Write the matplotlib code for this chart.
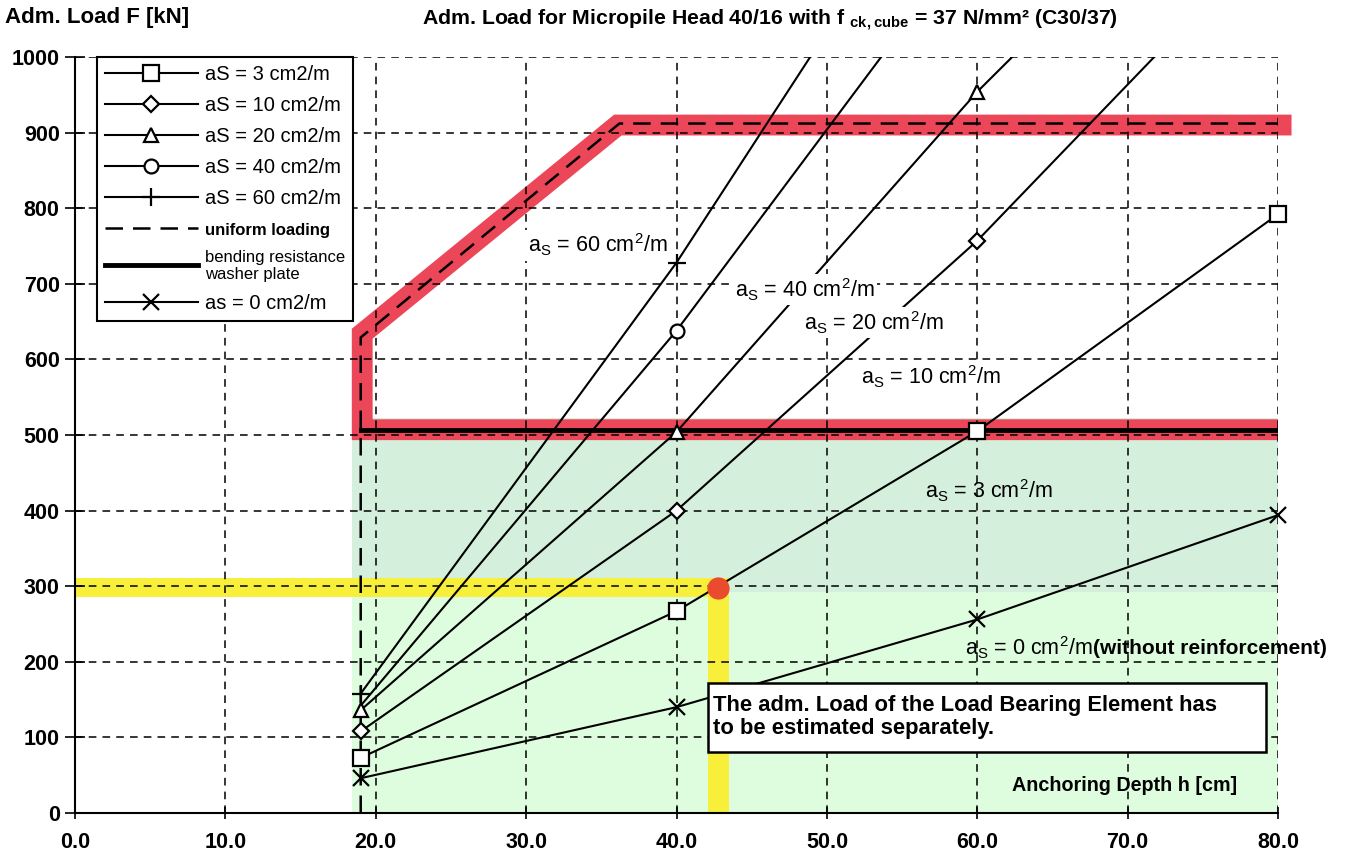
import numpy as np
import matplotlib
matplotlib.use('Agg')
import matplotlib.pyplot as plt
from matplotlib.lines import Line2D
from matplotlib.patches import Rectangle

plt.rcParams['font.family'] = ['Liberation Sans', 'DejaVu Sans']
plt.rcParams['mathtext.default'] = 'regular'

# anchoring depth h [cm] and admissible load F [kN] per reinforcement a_s
depth = [19, 40, 60, 80]
F_as0 = [46, 140, 256, 394]
F_as3 = [73, 267, 505, 792]
F_as10 = [108, 400, 757, 1170]
F_as20 = [136, 504, 954, 1350]
F_as40 = [142, 638, 1170, 1700]
F_as60 = [158, 728, 1340, 1950]

# limit curves
uni_h = [19, 19, 36.2, 80]
uni_F = [0, 629, 912, 912]
bend_h = [19, 80]
bend_F = [506, 506]

# highlighted limit (red) and read-off example (yellow)
red_h = [80, 19.1, 19.1, 36.1, 80.9]
red_F = [507, 507, 634, 910, 910]
ex_h, ex_F = 42.75, 297

xticks = [0, 10, 20, 30, 40, 50, 60, 70, 80]
yticks = [0, 100, 200, 300, 400, 500, 600, 700, 800, 900, 1000]

# label, values, marker, marker size, first marked point
series = [
    ('aS = 3 cm2/m', F_as3, 's', 11, 0),
    ('aS = 10 cm2/m', F_as10, 'D', 8.5, 0),
    ('aS = 20 cm2/m', F_as20, '^', 10, 0),
    ('aS = 40 cm2/m', F_as40, 'o', 10, 1),
    ('aS = 60 cm2/m', F_as60, '+', 13, 0),
    ('as = 0 cm2/m', F_as0, 'x', 11, 0),
]

W, H = 1353, 857
fig = plt.figure(figsize=(W/100, H/100), dpi=100)
ax = fig.add_axes([75/W, 1-813/H, (1278-75)/W, (813-57)/H])
ax.set_xlim(0, 80)
ax.set_ylim(0, 1000)

# background shading
lgreen = '#defcde'
dgreen = '#d4f0dc'
yel = '#f7ef3a'
ax.fill_between([18.4, 80], 0, 292, color=lgreen, lw=0, zorder=0.5)
ax.fill_between([18.4, 80], 292, 522, color=dgreen, lw=0, zorder=0.5)
ax.fill_between([0, 43.5], 286, 311, color=yel, lw=0, zorder=0.6)
ax.fill_betweenx([0, 311], 42.1, 43.5, color=yel, lw=0, zorder=0.6)
ax.plot(red_h, red_F, color='#eb4759', lw=15, solid_joinstyle='miter',
        solid_capstyle='butt', zorder=0.8, clip_on=False)

# grid
ax.grid(True, color='k', ls=(0, (5, 4)), lw=1.1)
ax.set_axisbelow(False)
for gl in ax.get_xgridlines() + ax.get_ygridlines():
    gl.set_zorder(1.5)

# limit curves
ax.plot(uni_h, uni_F, color='k', lw=1.8, ls=(0, (7, 4)), zorder=3)
ax.plot(bend_h, bend_F, color='k', lw=3.5, zorder=3)

# reinforcement curves
for lab, F, mk, ms, m0 in series:
    ax.plot(depth, F, color='k', lw=1.5, zorder=4)
    hv = [h for h, f in zip(depth[m0:], F[m0:]) if f <= 1000]
    fv = [f for f in F[m0:] if f <= 1000]
    ax.plot(hv, fv, ls='none', marker=mk, ms=ms, mfc='white', mec='k',
            mew=1.6, zorder=5, clip_on=False)

ax.plot([ex_h], [ex_F], 'o', ms=16, color='#ea4a2e', mew=0, zorder=4.5)

# note box
ax.add_patch(Rectangle((42.1, 81), 37.1, 91, fc='white', ec='k', lw=1.8, zorder=6))
ax.text(42.45, 127, 'The adm. Load of the Load Bearing Element has\nto be estimated separately.',
        fontsize=15.8, fontweight='bold', va='center', ha='left', linespacing=1.15, zorder=7)

# curve labels
lab_kw = dict(fontsize=15.5, va='center', ha='left', zorder=7)
box_kw = dict(fc='white', ec='none', pad=1.5)
ax.text(30.1, 751, r'a$_S$ = 60 cm$^2$/m', bbox=box_kw, **lab_kw)
ax.text(43.9, 692, r'a$_S$ = 40 cm$^2$/m', bbox=box_kw, **lab_kw)
ax.text(48.5, 649, r'a$_S$ = 20 cm$^2$/m', bbox=box_kw, **lab_kw)
ax.text(52.3, 577, r'a$_S$ = 10 cm$^2$/m', bbox=box_kw, **lab_kw)
ax.text(56.5, 426, r'a$_S$ = 3 cm$^2$/m', **lab_kw)
t0 = ax.text(59.2, 218, r'a$_S$ = 0 cm$^2$/m', **lab_kw)
ax.annotate('(without reinforcement)', xycoords=t0, xy=(1, 0.5), va='center',
            ha='left', fontsize=15, fontweight='bold', zorder=7, annotation_clip=False)
ax.text(62.3, 37, 'Anchoring Depth h [cm]', fontsize=14.2, fontweight='bold',
        va='center', ha='left', zorder=7)

# axes styling
for s in ['top', 'right']:
    ax.spines[s].set_visible(False)
for s in ['left', 'bottom']:
    ax.spines[s].set_linewidth(1.5)
ax.set_xticks(xticks)
ax.set_xticklabels(['%.1f' % v for v in xticks])
ax.set_yticks(yticks)
ax.set_yticklabels([str(v) for v in yticks])
ax.tick_params(axis='y', direction='inout', length=14, width=1.2, pad=4, labelsize=15.5)
ax.tick_params(axis='x', direction='inout', length=8, width=1.2, pad=10, labelsize=15.5)
for t in ax.get_xticklabels() + ax.get_yticklabels():
    t.set_fontweight('bold')

fig.text(5/W, 1-18/H, 'Adm. Load F [kN]', fontsize=16, fontweight='bold',
         va='center', ha='left')
fig.text(770/W, 1-20/H, r'Adm. Load for Micropile Head 40/16 with f $_{ck,cube}$ = 37 N/mm² (C30/37)',
         fontsize=15.3, fontweight='bold', va='center', ha='center')

# legend
handles = []
labels = []
for lab, F, mk, ms, m0 in series[:5]:
    handles.append(Line2D([], [], color='k', lw=1.5, marker=mk, ms=ms, mfc='white', mec='k', mew=1.6))
    labels.append(lab)
handles.append(Line2D([], [], color='k', lw=1.8, ls=(0, (7, 4))))
labels.append('uniform loading')
handles.append(Line2D([], [], color='k', lw=3.5))
labels.append('bending resistance\nwasher plate')
lab, F, mk, ms, m0 = series[5]
handles.append(Line2D([], [], color='k', lw=1.5, marker=mk, ms=ms, mfc='white', mec='k', mew=1.6))
labels.append(lab)
leg = ax.legend(handles, labels, loc='upper left', bbox_to_anchor=(97/W, 1-57/H),
                bbox_transform=fig.transFigure, borderaxespad=0, fontsize=14.5,
                handlelength=4.6, handletextpad=0.35, labelspacing=0.6,
                fancybox=False, framealpha=1, edgecolor='k', borderpad=0.4)
leg.get_frame().set_linewidth(1.5)
leg.set_zorder(10)
txts = leg.get_texts()
txts[5].set_fontsize(12)
txts[5].set_fontweight('bold')
txts[6].set_fontsize(12)

fig.savefig('out.png', dpi=100, facecolor='white')
